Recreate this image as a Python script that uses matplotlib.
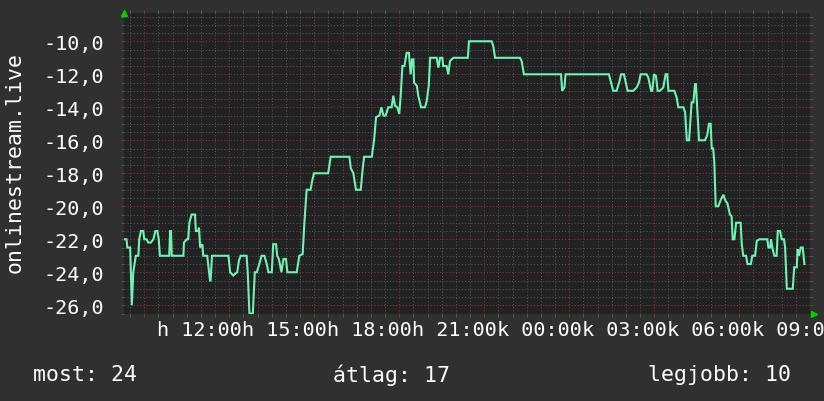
import matplotlib
matplotlib.use("Agg")
import matplotlib.pyplot as plt
from matplotlib.ticker import MultipleLocator, FixedLocator

# idő (óra, 24 felett = másnap) és érték
ido = [11.32, 11.37, 11.40, 11.50, 11.56, 11.61, 11.70, 11.79, 11.82, 11.88,
       11.96, 12.00, 12.08, 12.14, 12.23, 12.32, 12.39, 12.46, 12.51, 12.55,
       12.88, 12.91, 12.94, 12.97, 13.38, 13.40, 13.50, 13.55, 13.59, 13.67,
       13.79, 13.82, 13.90, 13.93, 13.97, 14.05, 14.08, 14.22, 14.32, 14.34,
       14.39, 14.97, 15.03, 15.14, 15.20, 15.28, 15.34, 15.40, 15.61, 15.65,
       15.71, 15.83, 15.90, 15.97, 16.06, 16.14, 16.24, 16.32, 16.38, 16.50,
       16.55, 16.65, 16.69, 16.75, 16.84, 16.91, 17.00, 17.05, 17.38, 17.47,
       17.59, 17.65, 17.73, 17.87, 17.92, 17.99, 18.49, 18.58, 19.24, 19.29,
       19.38, 19.47, 19.64, 19.71, 19.76, 20.03, 20.11, 20.18, 20.30, 20.37,
       20.44, 20.52, 20.61, 20.73, 20.79, 20.85, 20.93, 21.00, 21.05, 21.11,
       21.18, 21.26, 21.34, 21.40, 21.45, 21.50, 21.52, 21.62, 21.67, 21.77,
       21.91, 21.97, 22.04, 22.09, 22.32, 22.38, 22.44, 22.52, 22.55, 22.67,
       22.73, 22.79, 22.91, 23.42, 23.46, 24.26, 24.32, 24.38, 25.26, 25.32,
       25.40, 26.71, 26.75, 26.83, 26.87, 28.40, 28.46, 28.55, 28.67, 28.76,
       28.83, 28.93, 29.06, 29.26, 29.38, 29.46, 29.52, 29.73, 29.79, 29.89,
       29.93, 29.99, 30.06, 30.12, 30.20, 30.32, 30.40, 30.46, 30.50, 30.71,
       30.79, 30.85, 31.03, 31.09, 31.15, 31.23, 31.26, 31.32, 31.38, 31.44,
       31.47, 31.52, 31.58, 31.79, 31.87, 31.93, 31.99, 32.03, 32.08, 32.12,
       32.17, 32.26, 32.35, 32.44, 32.52, 32.58, 32.67, 32.73, 32.77, 32.83,
       32.89, 33.05, 33.09, 33.14, 33.24, 33.29, 33.41, 33.46, 33.56, 33.62,
       33.71, 33.99, 34.03, 34.09, 34.12, 34.18, 34.24, 34.32, 34.36, 34.44,
       34.50, 34.58, 34.62, 34.68, 34.89, 34.94, 35.03, 35.06, 35.11, 35.17,
       35.24, 35.30]
ertek = [-22, -22, -22.5, -22.5, -26, -24, -23, -23, -22, -21.5,
         -21.5, -22, -22, -22.2, -22.2, -22, -21.5, -21.5, -22, -23,
         -23, -21.5, -21.5, -23, -23, -22.2, -22, -22, -21, -20.5,
         -20.5, -21.5, -21.5, -21.3, -22.5, -22.3, -23, -23, -24.5, -24.5,
         -23, -23, -24, -24.2, -24.1, -24, -23.3, -23, -23, -24,
         -26.5, -26.5, -24, -24, -23.5, -23, -23, -23.5, -24, -24,
         -22.3, -22.3, -23, -23.2, -24, -23.2, -23.2, -24, -24, -23,
         -22.9, -21, -19, -19, -18.5, -18, -18, -17, -17, -17.7,
         -18, -19, -19, -17.7, -17, -17, -16, -14.6, -14.5, -14,
         -14.5, -14.5, -14, -14, -13.3, -13.9, -14, -14.4, -13.3, -11.5,
         -11.5, -10.7, -10.7, -12, -11.1, -11.1, -12.5, -12.7, -13.3, -14,
         -14, -13.6, -12.7, -11, -11, -11.6, -11, -11, -11.5, -11.5,
         -12, -11.2, -11, -11, -10, -10, -10.3, -11, -11, -11.2,
         -12, -12, -13, -12.8, -12, -12, -12.4, -13, -13, -12.5,
         -12, -12, -13, -13, -12.8, -12.5, -12, -12, -12.2, -13,
         -13, -12, -12.1, -13, -13, -12.8, -12, -12, -13, -13,
         -13.4, -14, -14, -14.3, -16, -16, -15.2, -13.7, -13.7, -12.6,
         -12.6, -14.1, -16, -16, -15.7, -15, -15, -16.5, -16.5, -17.3,
         -20, -20, -19.6, -19.3, -19.7, -19.8, -20.5, -20.6, -22, -22,
         -21, -21, -22.3, -23, -23, -23.5, -23.5, -23, -23, -22.1,
         -22, -22, -22.5, -22.5, -22, -22.6, -23, -23, -21.5, -21.5,
         -22, -22, -22.5, -25, -25, -23.7, -23.7, -22.6, -23, -22.5,
         -22.5, -23.5]

x_cimkek = ["h 12:00", "h 15:00", "h 18:00", "h 21:00",
            "k 00:00", "k 03:00", "k 06:00", "k 09:00"]
x_fo = [12, 15, 18, 21, 24, 27, 30, 33]
y_fo = [-10, -12, -14, -16, -18, -20, -22, -24, -26]
jelmagyarazat = ["most: 24", "átlag: 17", "legjobb: 10"]

hatter = "#303030"
vaszon = "#222222"
szurke = "#555555"
piros = "#7a3a3a"
vonal = "#70f2b6"
betu = "DejaVu Sans Mono"

fig = plt.figure(figsize=(8.24, 4.02), dpi=100, facecolor=hatter)
ax = fig.add_axes([124 / 824, 1 - 315 / 402, 686 / 824, 301 / 402])
ax.set_facecolor(vaszon)
ax.set_xlim(11.283, 35.498)
ax.set_ylim(-26.53, -8.285)

# rács
ax.xaxis.set_major_locator(FixedLocator(x_fo))
ax.xaxis.set_minor_locator(MultipleLocator(0.5))
ax.yaxis.set_major_locator(FixedLocator(y_fo))
ax.yaxis.set_minor_locator(MultipleLocator(0.5))
ax.grid(which="minor", color=szurke, linestyle=(0, (1, 2)), linewidth=0.75)
ax.grid(which="major", color=piros, linestyle=(0, (1, 2)), linewidth=0.75)
ax.set_axisbelow(True)
for s in ax.spines.values():
    s.set_visible(False)

ax.tick_params(which="both", direction="out", length=2.5, width=0.75,
               top=True, right=True, labelbottom=False)
ax.tick_params(which="major", colors=piros)
ax.tick_params(which="minor", colors=szurke)
ax.tick_params(axis="y", which="major", labelcolor="white",
               labelsize=14.5, pad=12)
ax.set_yticklabels([f"{v:.1f}".replace(".", ",") for v in y_fo],
                   family=betu)

ax.plot(ido, ertek, color=vonal, linewidth=1.5, solid_joinstyle="miter")

# x feliratok
for pos, txt in zip(x_fo, x_cimkek):
    ax.text(pos + 1.96, -0.05, txt, transform=ax.get_xaxis_transform(),
            ha="center", va="center", color="white", fontsize=14.5,
            family=betu, clip_on=False)

# nyilak
ax.plot([0.0], [1.0], marker="^", color="#00d000", markersize=4,
        transform=ax.transAxes, clip_on=False)
ax.plot([1.006], [0.0], marker=">", color="#00d000", markersize=4,
        transform=ax.transAxes, clip_on=False)

fig.text(15 / 824, 0.595, "onlinestream.live", rotation=90, ha="center",
         va="center", color="white", fontsize=15.5, family=betu)

for xp, txt in zip([33, 333, 648], jelmagyarazat):
    fig.text(xp / 824, 1 - 375 / 402, txt, ha="left", va="center",
             color="white", fontsize=15.5, family=betu)

fig.savefig("out.png", dpi=100, facecolor=hatter)
